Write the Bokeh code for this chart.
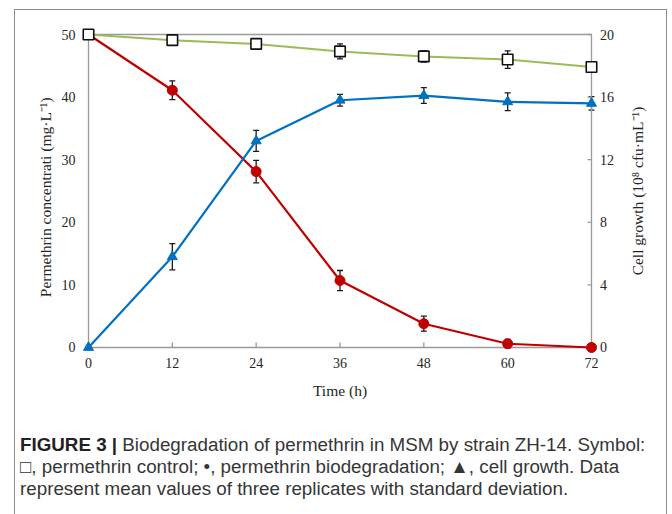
import math
from bokeh.plotting import figure
from bokeh.models import (Range1d, LinearAxis, FixedTicker, ColumnDataSource,
                          Whisker, TeeHead, Div, Column, InlineStyleSheet, Label)
from bokeh.embed import file_html
from bokeh.resources import INLINE

# ---- data ----
time_h = [0, 12, 24, 36, 48, 60, 72]
control = [50.0, 49.1, 48.5, 47.3, 46.5, 46.0, 44.8]
control_sd = [0.0, 0.6, 0.8, 1.2, 0.9, 1.4, 0.3]
degradation = [50.0, 41.1, 28.1, 10.7, 3.8, 0.6, 0.0]
degradation_sd = [0.0, 1.5, 1.8, 1.6, 1.2, 0.7, 0.0]
growth = [0.0, 5.8, 13.2, 15.8, 16.1, 15.7, 15.6]
growth_sd = [0.0, 0.84, 0.67, 0.37, 0.5, 0.57, 0.43]

x_ticks = [0, 12, 24, 36, 48, 60, 72]
left_ticks = [0, 10, 20, 30, 40, 50]
right_ticks = [0, 4, 8, 12, 16, 20]

x_label = "Time (h)"
left_label = "Permethrin concentrati (mg·L⁻¹)"
right_label = "Cell growth (10⁸ cfu·mL⁻¹)"

cap_bold = "FIGURE 3 |"
cap_line1 = "Biodegradation of permethrin in MSM by strain ZH-14. Symbol:"
cap_line2 = "□, permethrin control; •, permethrin biodegradation; ▲, cell growth. Data"
cap_line3 = "represent mean values of three replicates with standard deviation."

# ---- styling ----
GREEN = "#9bbb59"
RED = "#c00000"
BLUE = "#0070c0"
AXIS_GRAY = "#9a9a9a"
TEXT = "#262626"
SERIF = "Liberation Serif"

x_lo, x_hi = x_ticks[0], x_ticks[-1]
yl_lo, yl_hi = left_ticks[0], left_ticks[-1]
yr_lo, yr_hi = right_ticks[0], right_ticks[-1]
ratio = (yr_hi - yr_lo) / (yl_hi - yl_lo)

# the frame is wider than the plot box so that the side titles and tick
# labels (drawn inside the frame) are not clipped
pad_left = 9.877    # hours (~69 px)
pad_right = 9.877
pad_y = 1.28

p = figure(width=672, height=424, output_backend="svg", toolbar_location=None,
           x_range=Range1d(x_lo - pad_left, x_hi + pad_right),
           y_range=Range1d(yl_lo - pad_y, yl_hi + pad_y),
           min_border_left=19, min_border_right=12, min_border_top=26,
           min_border_bottom=69, x_axis_location=None, y_axis_location=None)
p.extra_y_ranges = {"right": Range1d(yr_lo - pad_y * ratio, yr_hi + pad_y * ratio)}
for g in p.grid:
    g.visible = False
p.outline_line_color = None
p.background_fill_color = "white"
p.border_fill_color = "white"

bottom = LinearAxis(ticker=FixedTicker(ticks=x_ticks), major_label_standoff=2,
                    axis_label=x_label, axis_label_standoff=11)
bottom.axis_line_color = None
bottom.major_tick_line_color = None
bottom.minor_tick_line_color = None
bottom.major_tick_in = 0
bottom.major_tick_out = 0
bottom.minor_tick_in = 0
bottom.minor_tick_out = 0
bottom.major_label_text_font = SERIF
bottom.major_label_text_font_size = "14px"
bottom.major_label_text_color = TEXT
bottom.axis_label_text_font = SERIF
bottom.axis_label_text_font_style = "normal"
bottom.axis_label_text_font_size = "15.5px"
bottom.axis_label_text_color = TEXT
p.add_layout(bottom, "below")

# plot box (axis lines) and inward ticks
p.quad(left=[x_lo], right=[x_hi], bottom=[yl_lo], top=[yl_hi], fill_alpha=0,
       line_color=AXIS_GRAY, line_width=1.3)
TICK_X = 0.8    # data units (~5 px) for the x ticks
TICK_R = 0.57   # data units (~4 px) for the right ticks
p.segment(x0=x_ticks, x1=x_ticks, y0=[yl_lo] * len(x_ticks),
          y1=[yl_lo + TICK_X] * len(x_ticks), line_color=AXIS_GRAY, line_width=1.3)
p.segment(x0=[x_hi] * len(right_ticks), x1=[x_hi - TICK_R] * len(right_ticks),
          y0=right_ticks, y1=right_ticks, line_color=AXIS_GRAY, line_width=1.3,
          y_range_name="right")

# left / right tick labels
LEFT_GAP = 1.86    # hours (~13 px)
RIGHT_GAP = 1.2    # hours (~8 px)
left_src = ColumnDataSource(dict(x=[x_lo - LEFT_GAP] * len(left_ticks), y=left_ticks,
                                 t=[str(v) for v in left_ticks]))
right_src = ColumnDataSource(dict(x=[x_hi + RIGHT_GAP] * len(right_ticks), y=right_ticks,
                                  t=[str(v) for v in right_ticks]))
p.text("x", "y", text="t", source=left_src, text_align="right",
       text_baseline="middle", text_font=SERIF, text_font_size="14px",
       text_color=TEXT)
p.text("x", "y", text="t", source=right_src, text_align="left",
       text_baseline="middle", text_font=SERIF, text_font_size="14px",
       text_color=TEXT, y_range_name="right")

# side titles, reading bottom-to-top
LEFT_TITLE_GAP = 6.2    # hours (~43 px) left of the plot box
RIGHT_TITLE_GAP = 6.6   # hours (~46 px) right of the plot box
p.add_layout(Label(x=x_lo - LEFT_TITLE_GAP, y=(yl_lo + yl_hi) / 2 - 1.0,
                   text=left_label, angle=math.pi / 2, angle_units="rad",
                   text_align="center", text_baseline="middle",
                   text_font=SERIF, text_font_size="15.5px", text_color=TEXT))
p.add_layout(Label(x=x_hi + RIGHT_TITLE_GAP, y=(yl_lo + yl_hi) / 2,
                   text=right_label, angle=math.pi / 2, angle_units="rad",
                   text_align="center", text_baseline="middle",
                   text_font=SERIF, text_font_size="15.5px", text_color=TEXT))

# ---- data sources ----
src_c = ColumnDataSource(dict(x=time_h, y=control,
                              up=[v + s for v, s in zip(control, control_sd)],
                              lo=[v - s for v, s in zip(control, control_sd)]))
src_d = ColumnDataSource(dict(x=time_h, y=degradation,
                              up=[v + s for v, s in zip(degradation, degradation_sd)],
                              lo=[v - s for v, s in zip(degradation, degradation_sd)]))
src_g = ColumnDataSource(dict(x=time_h, y=growth,
                              up=[v + s for v, s in zip(growth, growth_sd)],
                              lo=[v - s for v, s in zip(growth, growth_sd)]))

p.line("x", "y", source=src_c, line_color=GREEN, line_width=2)
p.line("x", "y", source=src_d, line_color=RED, line_width=2.2)
p.line("x", "y", source=src_g, line_color=BLUE, line_width=2.2, y_range_name="right")


def whisk(src, rng="default"):
    w = Whisker(source=src, base="x", upper="up", lower="lo",
                line_color="#1a1a1a", line_width=1.3,
                upper_head=TeeHead(size=6, line_color="#1a1a1a", line_width=1.3),
                lower_head=TeeHead(size=6, line_color="#1a1a1a", line_width=1.3),
                y_range_name=rng)
    p.add_layout(w)


whisk(src_c)
whisk(src_d)
whisk(src_g, "right")

p.scatter("x", "y", source=src_d, marker="circle", size=10, fill_color=RED,
          line_color=RED)
p.scatter("x", "y", source=src_g, marker="triangle", size=10, fill_color=BLUE,
          line_color=BLUE, y_range_name="right")
p.scatter("x", "y", source=src_c, marker="square", size=10.5, fill_color="white",
          line_color="#111111", line_width=1.6)

# ---- caption ----
caption_html = (
    '<div style="font-family:\'Liberation Sans\',\'Helvetica\',sans-serif;'
    'font-size:18.8px;line-height:22px;color:#363636;padding:10px 0 0 20px;'
    'white-space:nowrap;">'
    f'<b style="color:#222222">{cap_bold}</b> {cap_line1}<br>'
    f'{cap_line2}<br>{cap_line3}</div>'
)
cap = Div(text=caption_html, width=672, height=90, margin=(0, 0, 0, 0))

frame_css = InlineStyleSheet(css="""
:host { position: relative; }
:host::after {
  content: ""; position: absolute; left: 14px; top: 9px;
  width: 653px; height: 540px; border: 1.2px solid #8c8c8c;
  box-sizing: border-box; pointer-events: none;
}
""")

layout = Column(children=[p, cap], width=672, height=514, spacing=0,
                stylesheets=[frame_css])

open("out.html", "w").write(file_html(layout, INLINE))
